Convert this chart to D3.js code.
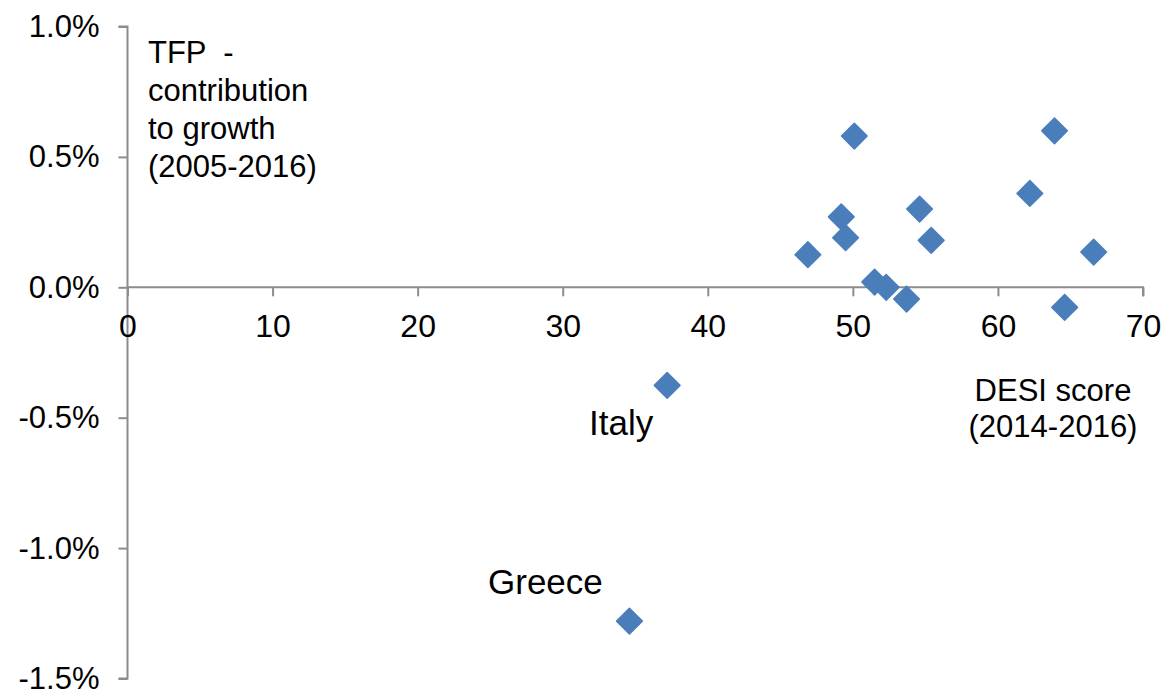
<!DOCTYPE html>
<html>
<head>
<meta charset="utf-8">
<script src="https://cdn.jsdelivr.net/npm/d3@7"></script>
<style>
  body { margin: 0; background: #fff; }
  text { font-family: "Liberation Sans", Arial, sans-serif; fill: #000; white-space: pre; }
</style>
</head>
<body>
<script>

// DESI score (x) vs TFP contribution to growth in % (y)
var desi = [50.1, 63.9, 62.2, 49.2, 49.5, 54.6, 55.4, 46.9, 66.6, 51.5, 52.3, 53.7, 64.6, 37.2, 34.6];
var tfp  = [0.58, 0.60, 0.36, 0.27, 0.19, 0.30, 0.18, 0.125, 0.135, 0.02, 0.00, -0.045, -0.077, -0.376, -1.28];
var names = ["", "", "", "", "", "", "", "", "", "", "", "", "", "Italy", "Greece"];

var xTicks = [0, 10, 20, 30, 40, 50, 60, 70];
var yTicks = [1.0, 0.5, 0.0, -0.5, -1.0, -1.5];

var points = desi.map(function(d, i){
  return { x: d, y: tfp[i], name: names[i] };
});

var width = 1166, height = 691;

var svg = d3.select("body")
            .append("svg")
            .attr("width", width)
            .attr("height", height);

var x = d3.scaleLinear().domain([0, 70]).range([127.5, 1143]);
var y = d3.scaleLinear().domain([-1.5, 1.0]).range([678.5, 26.5]);

var axisColor = "#8c8c8c";

// y axis
var yAxis = svg.append("g")
  .attr("transform", "translate(" + x(0) + ",0)")
  .call(d3.axisLeft(y).tickValues(yTicks).tickSize(9).tickPadding(19)
        .tickFormat(function(d){ return d.toFixed(1) + "%"; }));

// x axis sits on y = 0
var xAxis = svg.append("g")
  .attr("transform", "translate(0," + y(0) + ")")
  .call(d3.axisBottom(x).tickValues(xTicks).tickSize(9).tickPadding(18));

[xAxis, yAxis].forEach(function(a){
  a.select(".domain").attr("stroke", axisColor).attr("stroke-width", 2);
  a.selectAll(".tick line").attr("stroke", axisColor).attr("stroke-width", 2);
  a.selectAll(".tick text")
   .style("font-size", "31px")
   .style("font-family", "'Liberation Sans', Arial, sans-serif")
   .attr("fill", "#000");
});
xAxis.selectAll(".tick text").style("font-size", "32px");
xAxis.select(".domain").attr("d", "M" + x(0) + ",0H" + x(70) + "V9");
yAxis.select(".domain").attr("d", "M-9," + y(1.0) + "H0V" + y(-1.5) + "H-9");

// markers
var diamond = d3.symbol().type(d3.symbolSquare).size(330);
svg.selectAll("path.pt").data(points).enter().append("path")
  .attr("class", "pt")
  .attr("d", diamond)
  .attr("transform", function(d){ return "translate(" + x(d.x) + "," + y(d.y) + ") rotate(45)"; })
  .style("fill", "#4a7ebb")
  .style("stroke", "#4a7ebb")
  .style("stroke-width", 1.5)
  .style("stroke-linejoin", "round");

// country labels
var labelPos = { "Italy": [589, 435], "Greece": [488, 594] };
svg.selectAll("text.lab").data(points.filter(function(d){ return d.name; })).enter().append("text")
  .attr("class", "lab")
  .attr("x", function(d){ return labelPos[d.name][0]; })
  .attr("y", function(d){ return labelPos[d.name][1]; })
  .style("font-size", "35px")
  .text(function(d){ return d.name; });

// axis titles
var yTitle = ["TFP  -", "contribution", "to growth", "(2005-2016)"];
svg.append("text")
  .attr("x", 148).attr("y", 63)
  .style("font-size", "31px")
  .selectAll("tspan").data(yTitle).enter().append("tspan")
  .attr("x", 148)
  .attr("dy", function(d, i){ return i ? 38 : 0; })
  .text(function(d){ return d; });

var xTitle = ["DESI score", "(2014-2016)"];
svg.append("text")
  .attr("x", 1053).attr("y", 401)
  .attr("text-anchor", "middle")
  .style("font-size", "31px")
  .selectAll("tspan").data(xTitle).enter().append("tspan")
  .attr("x", 1053)
  .attr("dy", function(d, i){ return i ? 36 : 0; })
  .text(function(d){ return d; });

</script>
</body>
</html>
